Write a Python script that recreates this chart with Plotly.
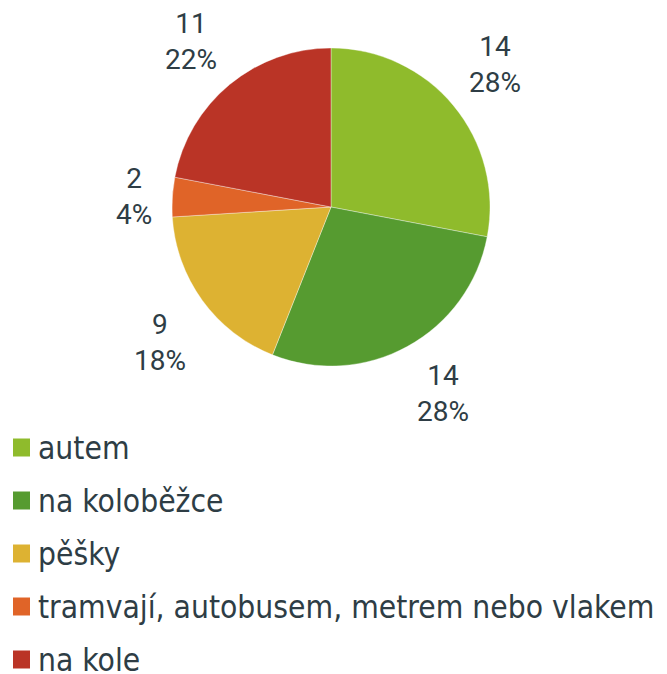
import math
import plotly.graph_objects as go

categories = ["autem", "na koloběžce", "pěšky", "tramvají, autobusem, metrem nebo vlakem", "na kole"]
values = [14, 14, 9, 2, 11]
colors = ["#8FBB2C", "#569B30", "#DDB232", "#E06428", "#BA3426"]

# page body has an 8px margin, so work in page pixels and shift by it
OFF = 8
W, H = 667 - OFF, 674 - OFF
CX, CY, R = 331 - OFF, 207 - OFF, 159
TEXT = "#2E3D45"
LABEL_FONT = "Roboto"
LABEL_FS = 28
LEG_FS = 31.5


def px2x(px):
    return px / W


def py2y(py):
    return 1 - py / H


def text_w(s, fs):
    return sum((0.733 if ch == "%" else 0.562) for ch in s) * fs


fig = go.Figure()
fig.add_trace(go.Pie(
    labels=categories, values=values, sort=False, direction="clockwise", rotation=0,
    marker=dict(colors=colors, line=dict(color="rgba(255,255,255,0.45)", width=0.8)),
    textinfo="none", hoverinfo="label+value+percent", showlegend=False,
    domain=dict(x=[px2x(CX - R), px2x(CX + R)], y=[py2y(CY + R), py2y(CY - R)]),
))

annotations = []
total = sum(values)
cum = 0
GAP = 20
BLOCK_H = 58
for v in values:
    mid = (cum + v / 2) / total * 2 * math.pi
    cum += v
    ux, uy = math.sin(mid), -math.cos(mid)
    pct = f"{round(v / total * 100)}%"
    w = max(text_w(str(v), LABEL_FS), text_w(pct, LABEL_FS))
    cx_c = CX + (R + GAP) * ux
    cy_c = CY + (R + GAP) * uy
    sx = 1 if ux > 0 else -1
    sy = 0 if abs(uy) < 0.2 else (1 if uy > 0 else -1)
    px = cx_c + sx * w / 2
    py = cy_c + sy * BLOCK_H / 2 + 1
    annotations.append(dict(
        x=px2x(px), y=py2y(py), xref="paper", yref="paper", showarrow=False,
        text=f"{v}<br>{pct}", xanchor="center", yanchor="middle", align="center",
        font=dict(family=LABEL_FONT, size=LABEL_FS, color=TEXT),
    ))

shapes = []
for i, (cat, col) in enumerate(zip(categories, colors)):
    yc = 447.5 - OFF + i * 53
    shapes.append(dict(type="rect", xref="paper", yref="paper",
                       x0=px2x(13 - OFF), x1=px2x(30 - OFF),
                       y0=py2y(yc + 9), y1=py2y(yc - 9),
                       fillcolor=col, line=dict(width=0)))
    annotations.append(dict(
        x=px2x(36 - OFF), y=py2y(yc), xref="paper", yref="paper", showarrow=False,
        text=cat, xanchor="left", yanchor="middle",
        font=dict(family="DejaVu Sans Condensed", size=LEG_FS, color=TEXT),
    ))

fig.update_layout(
    width=W, height=H, margin=dict(l=0, r=0, t=0, b=0),
    paper_bgcolor="white", plot_bgcolor="white",
    annotations=annotations, shapes=shapes, showlegend=False,
)
fig.write_html("out.html")
